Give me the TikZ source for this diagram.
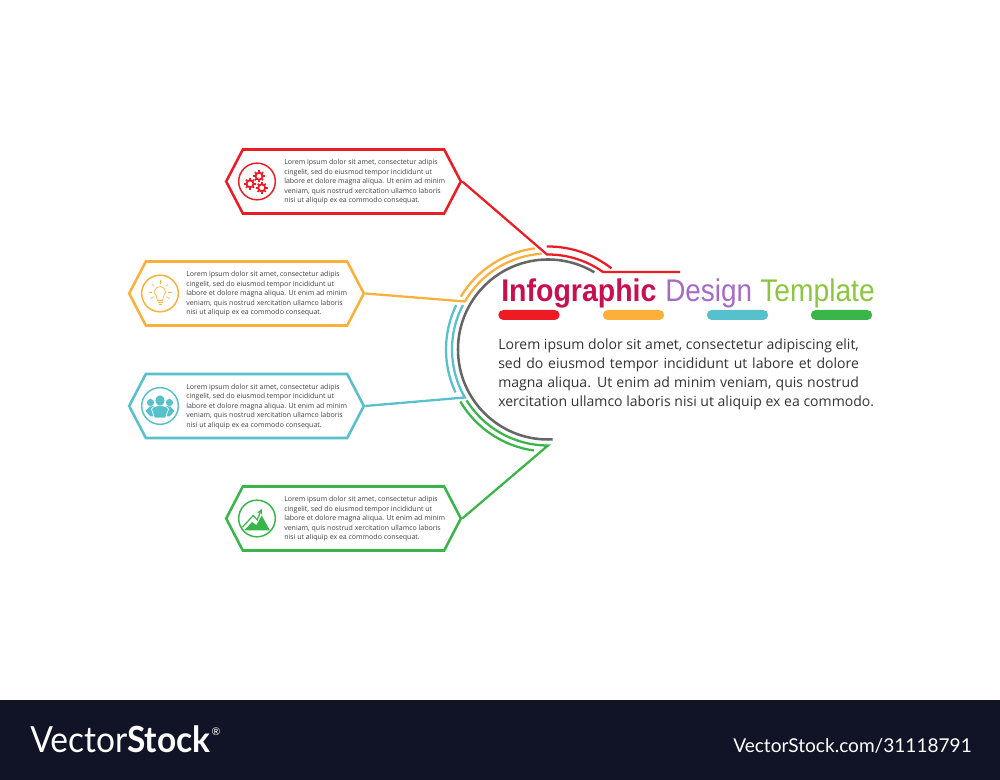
\documentclass[tikz,border=0pt]{standalone}
\usepackage{fontspec}
\usepackage{graphicx}
\setmainfont{Open Sans}
\newfontfamily\titlefont{Liberation Sans}
\newfontfamily\logofont{Lato}
\usetikzlibrary{shapes.symbols,positioning,calc}
\definecolor{redline}{HTML}{ED1C24}
\definecolor{orangeline}{HTML}{FBB03B}
\definecolor{tealline}{HTML}{56C0CC}
\definecolor{greenline}{HTML}{39B54A}
\definecolor{grayline}{HTML}{666666}
\definecolor{darkband}{HTML}{111427}
\tikzset{
	hexbox/.style={
		signal,
		signal to=west and east,
		signal pointer angle=125,
		draw=#1,
		line width=1.9pt,
		minimum width=176pt,
		minimum height=48pt,
		inner sep=0pt,
	},
	iconring/.style={
		circle,
		draw=#1,
		line width=1.1pt,
		minimum size=27.5pt,
		inner sep=0pt,
	},
	smalltext/.style={
		font=\fontsize{5.25pt}{7.1pt}\selectfont,
		text=black!75,
		align=left,
		inner sep=0pt,
	},
	titletext/.style={
		font=\titlefont\fontsize{23.5pt}{23.5pt}\selectfont,
		text=#1,
		inner sep=0pt,
		anchor=base west,
	},
	colorbar/.style={
		rounded corners=3.7pt,
		fill=#1,
		minimum width=46pt,
		minimum height=7.5pt,
		inner sep=0pt,
	},
	wire/.style={
		draw=#1,
		line width=1.7pt,
	},
}
\definecolor{titlered}{RGB}{200,16,80}
\definecolor{titlepurple}{RGB}{165,107,197}
\definecolor{titlegreen}{RGB}{140,198,63}
\newcommand{\loremtext}{Lorem ipsum dolor sit amet, consectetur adipis\\cingelit, sed do eiusmod tempor incididunt ut\\labore et dolore magna aliqua. Ut enim ad minim\\veniam, quis nostrud xercitation ullamco laboris\\nisi ut aliquip ex ea commodo consequat.}
\newcommand{\fitline}[1]{\makebox[270.5pt][s]{#1}}
\begin{document}
\begin{tikzpicture}[x=0.75pt, y=0.75pt, >=stealth]
	\useasboundingbox (0,0) rectangle (1000,780);
	% nodes
	\coordinate (hub) at (548,430.5);
	\node [hexbox=redline] (boxA) at (343.5,598.5) {};
	\node [hexbox=orangeline] (boxB) at (246.5,486.5) {};
	\node [hexbox=tealline] (boxC) at (246.5,374) {};
	\node [hexbox=greenline] (boxD) at (343.5,261.5) {};
	\node [iconring=redline] (ringA) at (257,598.5) {};
	\node [iconring=orangeline] (ringB) at (160,486.5) {};
	\node [iconring=tealline] (ringC) at (160,374) {};
	\node [iconring=greenline] (ringD) at (257,261.5) {};
	\node [smalltext, anchor=west] (textA) at (284,598) {\loremtext};
	\node [smalltext, anchor=west] (textB) at (186,486) {\loremtext};
	\node [smalltext, anchor=west] (textC) at (186,373.5) {\loremtext};
	\node [smalltext, anchor=west] (textD) at (284,261) {\loremtext};

	% icons
	\begin{scope}[shift={(ringA)}, redline]
		\foreach \gx/\gy in {2/5.3, -7/-2.3, 4.7/-6.3} {
			\draw [line width=1.4pt] (\gx,\gy) circle (3.5);
			\foreach \ga in {0,45,...,315}
				\draw [line width=1.2pt] ($(\gx,\gy)+(\ga:3.8)$) -- ($(\gx,\gy)+(\ga:5.8)$);
		}
	\end{scope}
	\begin{scope}[shift={(ringB)}, orangeline, line width=.5pt]
		\draw (-50:5.5) ++(0,1.5) arc (-50:230:5.5) -- (-2.5,-7) -- (2.5,-7) -- cycle;
		\draw (-2.5,-8.7) -- (2.5,-8.7);
		\draw (-1.5,-10.8) -- (1.5,-10.8);
		\foreach \ra in {90,45,135,0,180,-35,215}
			\draw ($(0,1.5)+(\ra:8)$) -- ($(0,1.5)+(\ra:11.5)$);
	\end{scope}
	\begin{scope}[shift={(ringC)}]
		\fill [tealline] (-9.5,3.5) circle (3.6);
		\fill [tealline] (9.5,3.5) circle (3.6);
		\fill [tealline] (-14.5,-5) -- (-10,-0.5) -- (-5,0) -- (-4,-10.5) -- (-9.5,-10.5) -- cycle;
		\fill [tealline] (14.5,-5) -- (10,-0.5) -- (5,0) -- (4,-10.5) -- (9.5,-10.5) -- cycle;
		\fill [tealline, draw=white, line width=.5pt] (-8.5,-3) .. controls (-6.5,1.5) and (6.5,1.5) .. (8.5,-3) -- (5.5,-12) -- (-5.5,-12) -- cycle;
		\fill [tealline] (0,5.5) ellipse (4.6 and 5.2);
	\end{scope}
	\begin{scope}[shift={(ringD)}, greenline]
		\fill (-13,-12) -- (-5,-3.6) -- (-0.5,-6.5) -- (4.7,3) -- (13,-12) -- cycle;
		\draw [->, line width=.9pt] (-14.7,-8.7) -- (-3.7,3) -- (0.3,-1.3) -- (4.7,9.7);
	\end{scope}

	% title
	\node [titletext=titlered] (titleA) at (501,478.5) {\scalebox{.91}[1]{\bfseries Infographic}};
	\node [titletext=titlepurple] (titleB) at (665,478.5) {\scalebox{.89}[1]{Design}};
	\node [titletext=titlegreen] (titleC) at (760,478.5) {\scalebox{.9}[1]{Template}};
	\node [colorbar=redline] (barA) at (529,465) {};
	\node [colorbar=orangeline] (barB) at (633.5,465) {};
	\node [colorbar=tealline] (barC) at (737.5,465) {};
	\node [colorbar=greenline] (barD) at (841.5,465) {};
	\node [font=\fontsize{10.53pt}{14.2pt}\selectfont, text=black!80, align=left, inner sep=0pt, anchor=north west] (bodytext) at (498,441) {\fitline{Lorem ipsum dolor sit amet, consectetur adipiscing elit,}\\\fitline{sed do eiusmod tempor incididunt ut labore et dolore}\\\fitline{magna aliqua. Ut enim ad minim veniam, quis nostrud}\\xercitation ullamco laboris nisi ut aliquip ex ea commodo.};

	%arcs
	\draw [wire=grayline, line width=1.9pt] ($(hub)+(273:90)$) arc (273:59:90);
	\coordinate (tailA) at (680,508);
	\draw [wire=redline] (boxA.east) -- ($(hub)+(90.6:95)$) arc (90.6:54.6:95) -- (tailA);
	\draw [wire=redline] ($(hub)+(90.7:103)$) arc (90.7:52:103);
	\draw [wire=orangeline] (boxB.east) -- ($(hub)+(150:96)$) arc (150:93.8:96);
	\draw [wire=orangeline] ($(hub)+(148.8:102)$) arc (148.8:97.4:102);
	\draw [wire=tealline] (boxC.east) -- ($(hub)+(210:96)$) arc (210:152.4:96);
	\draw [wire=tealline] ($(hub)+(204.9:102)$) arc (204.9:154.2:102);
	\draw [wire=greenline] (boxD.east) -- ($(hub)+(270:96)$) arc (270:212:96);
	\draw [wire=greenline] ($(hub)+(262:102)$) arc (262:210.7:102);

	% footer
	\fill [darkband] (0,0) rectangle (1000,80);
	\node [font=\logofont\fontsize{27pt}{27pt}\selectfont, text=white, inner sep=0pt, anchor=base west] (logo) at (30,27) {\scalebox{.93}[1]{Vector\textbf{Stock}}};
	\node [font=\logofont\fontsize{8pt}{8pt}\selectfont, text=white, inner sep=0pt, anchor=center] (regmark) at (216,48) {®};
	\node [font=\logofont\fontsize{14.3pt}{14.3pt}\selectfont, text=white, inner sep=0pt, anchor=base east] (stockid) at (972,27) {VectorStock.com/31118791};
\end{tikzpicture}
\end{document}
